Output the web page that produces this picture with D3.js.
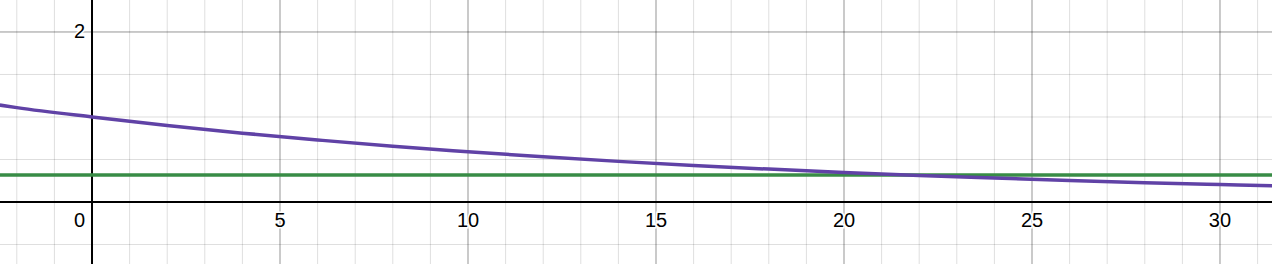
<!DOCTYPE html>
<html>
<head>
<meta charset="utf-8">
<script src="https://cdn.jsdelivr.net/npm/d3@7"></script>
<style>
  html, body { margin: 0; padding: 0; background: #fff; }
  svg text { font-family: Arial, "Liberation Sans", sans-serif; font-size: 20px; fill: #000; }
</style>
</head>
<body>
<div id="chart"></div>
<script>
// values
const curveX = [-2.45, -2, 0, 2, 4, 6, 8, 10, 12, 14, 16, 18, 20, 22, 24, 26, 28, 30, 31.4];
const curveY = [1.14, 1.11, 1.0, 0.9, 0.81, 0.73, 0.655, 0.592, 0.532, 0.478, 0.43, 0.387, 0.348, 0.313, 0.282, 0.253, 0.228, 0.205, 0.19];
const levelY = 0.318;
const xTicks = [0, 5, 10, 15, 20, 25, 30];
const yTicks = [2];

const width = 1272, height = 264;

const x = d3.scaleLinear().domain([-2.447, 31.383]).range([0, width]);
const y = d3.scaleLinear().domain([-0.729, 2.376]).range([height, 0]);

const svg = d3.select('#chart').append('svg')
  .attr('width', width)
  .attr('height', height);

// grid: minor every 1 / 0.5, major every 5 / 2
const minorX = d3.range(-2, 32, 1).filter(v => v % 5 !== 0);
const majorX = [5, 10, 15, 20, 25, 30];
const minorY = d3.range(-0.5, 2.5, 0.5).filter(v => v % 2 !== 0);
const majorY = [2];

svg.append('g').selectAll('line').data(minorX).enter().append('line')
  .attr('x1', d => x(d)).attr('x2', d => x(d)).attr('y1', 0).attr('y2', height)
  .attr('stroke', '#000').attr('stroke-opacity', 0.13).attr('stroke-width', 1);
svg.append('g').selectAll('line').data(minorY).enter().append('line')
  .attr('y1', d => y(d)).attr('y2', d => y(d)).attr('x1', 0).attr('x2', width)
  .attr('stroke', '#000').attr('stroke-opacity', 0.13).attr('stroke-width', 1);
svg.append('g').selectAll('line').data(majorX).enter().append('line')
  .attr('x1', d => x(d)).attr('x2', d => x(d)).attr('y1', 0).attr('y2', height)
  .attr('stroke', '#000').attr('stroke-opacity', 0.42).attr('stroke-width', 1);
svg.append('g').selectAll('line').data(majorY).enter().append('line')
  .attr('y1', d => y(d)).attr('y2', d => y(d)).attr('x1', 0).attr('x2', width)
  .attr('stroke', '#000').attr('stroke-opacity', 0.42).attr('stroke-width', 1);

// axes
svg.append('line').attr('x1', 0).attr('x2', width).attr('y1', y(0)).attr('y2', y(0))
  .attr('stroke', '#000').attr('stroke-width', 2);
svg.append('line').attr('x1', x(0)).attr('x2', x(0)).attr('y1', 0).attr('y2', height)
  .attr('stroke', '#000').attr('stroke-width', 2);

// green level line
svg.append('line')
  .attr('x1', 0).attr('x2', width).attr('y1', y(levelY)).attr('y2', y(levelY))
  .attr('stroke', '#388c46').attr('stroke-width', 3.5);

// purple curve
const pts = curveX.map((v, i) => [v, curveY[i]]);
const line = d3.line().x(d => x(d[0])).y(d => y(d[1])).curve(d3.curveMonotoneX);
svg.append('path').datum(pts)
  .attr('fill', 'none').attr('stroke', '#6042a6').attr('stroke-width', 3.5)
  .attr('d', line);

// tick labels
const labels = svg.append('g');
labels.selectAll('text.xl').data(xTicks).enter().append('text')
  .attr('class', 'xl')
  .attr('x', d => d === 0 ? x(0) - 7 : x(d))
  .attr('y', y(0) + 24.5)
  .attr('text-anchor', d => d === 0 ? 'end' : 'middle')
  .attr('stroke', '#fff').attr('stroke-width', 3).attr('paint-order', 'stroke')
  .text(d => d);
labels.selectAll('text.yl').data(yTicks).enter().append('text')
  .attr('class', 'yl')
  .attr('x', x(0) - 7)
  .attr('y', d => y(d) + 6.5)
  .attr('text-anchor', 'end')
  .attr('stroke', '#fff').attr('stroke-width', 3).attr('paint-order', 'stroke')
  .text(d => d);
</script>
</body>
</html>
